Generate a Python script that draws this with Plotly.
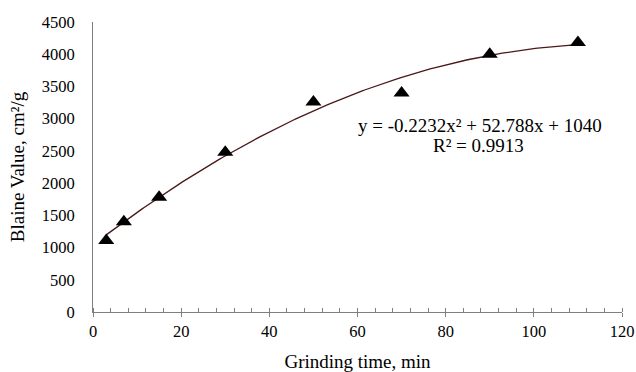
import numpy as np
import plotly.graph_objects as go

grinding_time = [3, 7, 15, 30, 50, 70, 90, 110]
blaine_value = [1110, 1400, 1780, 2480, 3260, 3400, 4000, 4180]
trend_coeffs = [-0.2232, 52.788, 1040]  # a, b, c of y = a x^2 + b x + c
equation_text = "y = -0.2232x² + 52.788x + 1040"
r2_text = "R² = 0.9913"

xt = np.linspace(min(grinding_time), max(grinding_time), 200)
yt = np.polyval(trend_coeffs, xt)

font_family = "Liberation Serif, Times New Roman, serif"

L, R, T, B = 93, 14, 22, 60
W, H = 636, 372
pw, ph = W - L - R, H - T - B

fig = go.Figure()
fig.add_trace(go.Scatter(x=xt, y=yt, mode="lines",
                         line=dict(color="#4a1818", width=1.3),
                         hoverinfo="skip", showlegend=False))
fig.add_trace(go.Scatter(x=grinding_time, y=blaine_value, mode="markers",
                         marker=dict(symbol="triangle-up", size=14, color="black"),
                         showlegend=False))

for txt, px_x, px_y in [(equation_text, 480, 125), (r2_text, 478, 145)]:
    fig.add_annotation(x=(px_x - L) / pw, y=(H - B - px_y) / ph,
                       xref="paper", yref="paper", xanchor="center", yanchor="middle",
                       text=txt, showarrow=False,
                       font=dict(family=font_family, size=19, color="black"))

fig.update_layout(
    width=W, height=H,
    margin=dict(l=L, r=R, t=T, b=B),
    paper_bgcolor="white", plot_bgcolor="white",
    font=dict(family=font_family, size=16.5, color="black"),
    xaxis=dict(range=[0, 120], dtick=20, showgrid=False, zeroline=False,
               showline=True, linecolor="#7f7f7f", linewidth=1,
               ticks="outside", ticklen=4, tickcolor="#7f7f7f",
               minor=dict(dtick=4, ticks="inside", ticklen=4, tickcolor="#7f7f7f"),
               automargin=False,
               title=dict(text="Grinding time, min", standoff=22,
                          font=dict(family=font_family, size=19)),
               tickfont=dict(family=font_family, size=16.5)),
    yaxis=dict(range=[0, 4500], dtick=500, showgrid=False, zeroline=False,
               showline=True, linecolor="#7f7f7f", linewidth=1,
               ticks="", ticklabelstandoff=14, automargin=False,
               title=dict(text="Blaine Value, cm²/g", standoff=12,
                          font=dict(family=font_family, size=19)),
               tickfont=dict(family=font_family, size=16.5)),
)

fig.write_html("out.html")
